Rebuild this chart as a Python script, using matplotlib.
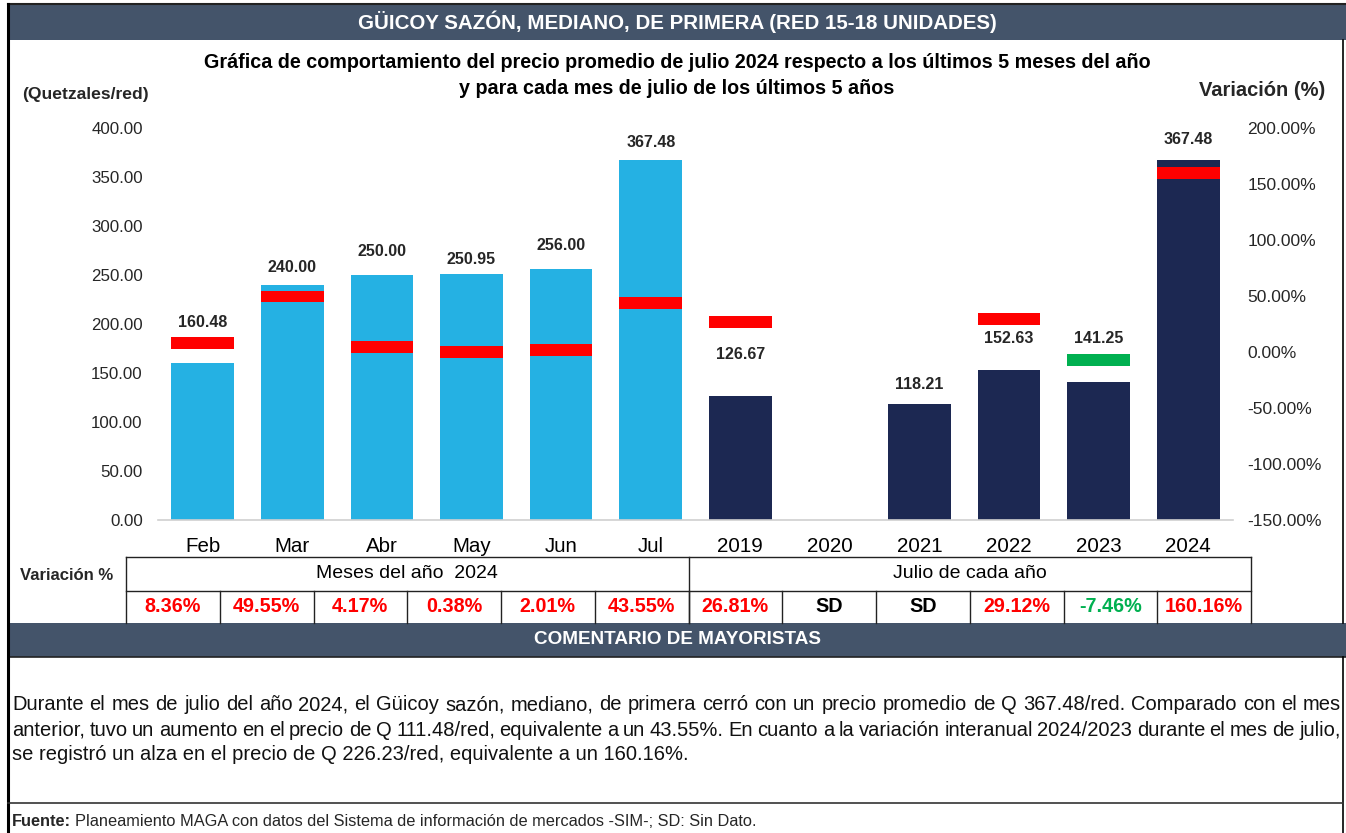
import matplotlib
matplotlib.use("Agg")
import matplotlib.pyplot as plt
from matplotlib.lines import Line2D
from matplotlib.patches import Rectangle
import numpy as np

plt.rcParams['font.family'] = ['Liberation Sans', 'DejaVu Sans']

# ---------------- data ----------------
categories = ["Feb", "Mar", "Abr", "May", "Jun", "Jul",
              "2019", "2020", "2021", "2022", "2023", "2024"]
prices = [160.48, 240.00, 250.00, 250.95, 256.00, 367.48,
          126.67, np.nan, 118.21, 152.63, 141.25, 367.48]
variation = [8.36, 49.55, 4.17, 0.38, 2.01, 43.55,
             26.81, np.nan, np.nan, 29.12, -7.46, 160.16]
variation_text = ["8.36%", "49.55%", "4.17%", "0.38%", "2.01%", "43.55%",
                  "26.81%", "SD", "SD", "29.12%", "-7.46%", "160.16%"]
left_ticks = [0, 50, 100, 150, 200, 250, 300, 350, 400]
right_ticks = [-150, -100, -50, 0, 50, 100, 150, 200]
group_labels = ["Meses del año  2024", "Julio de cada año"]

# label offsets above bar tops (pixels) - mimic manual placement
label_offset_px = [40, 17, 24, 15, 24, 17, 41, 0, 20, 32, 43, 20]

W, H = 1346, 833
fig = plt.figure(figsize=(W / 100, H / 100), dpi=100)

def fx(x):
    return x / W

def fy(y):
    return 1 - y / H

LIGHT = "#25B1E3"
NAVY = "#1C2852"
HEAD = "#44546A"
RED = "#FF0000"
GREEN = "#00B050"
TXT = "#262626"

# ---------------- header bars ----------------
fig.add_artist(Rectangle((fx(8), fy(40)), fx(1346) - fx(8), fy(4) - fy(40),
                         transform=fig.transFigure, facecolor=HEAD, edgecolor="none"))
fig.add_artist(Line2D([fx(8), fx(1346)], [fy(4), fy(4)], transform=fig.transFigure,
                      color="#222222", lw=1.5))
fig.text(fx(677), fy(22), "GÜICOY SAZÓN, MEDIANO, DE PRIMERA (RED 15-18 UNIDADES)",
         color="white", fontsize=14.8, fontweight="bold", ha="center", va="center")

fig.add_artist(Rectangle((fx(8), fy(657)), fx(1346) - fx(8), fy(623) - fy(657),
                         transform=fig.transFigure, facecolor=HEAD, edgecolor="none"))
fig.add_artist(Line2D([fx(8), fx(1346)], [fy(657), fy(657)], transform=fig.transFigure,
                      color="#222222", lw=1.2))
fig.text(fx(677), fy(640), "COMENTARIO DE MAYORISTAS",
         color="white", fontsize=13.6, fontweight="bold", ha="center", va="center")

# outer borders
fig.add_artist(Line2D([fx(8), fx(8)], [fy(4), fy(833)], transform=fig.transFigure,
                      color="black", lw=2.2))
fig.add_artist(Line2D([fx(1343), fx(1343)], [fy(40), fy(623)], transform=fig.transFigure,
                      color="black", lw=1.2))
fig.add_artist(Line2D([fx(1343), fx(1343)], [fy(657), fy(833)], transform=fig.transFigure,
                      color="black", lw=1.2))
fig.add_artist(Line2D([fx(8), fx(1343)], [fy(803), fy(803)], transform=fig.transFigure,
                      color="#333333", lw=1.2))

# titles
fig.text(fx(677), fy(62), "Gráfica de comportamiento del precio promedio de julio 2024 respecto a los últimos 5 meses del año",
         fontsize=14.2, fontweight="bold", ha="center", va="center", color="black")
fig.text(fx(677), fy(88), "y para cada mes de julio de los últimos 5 años",
         fontsize=14.2, fontweight="bold", ha="center", va="center", color="black")
fig.text(fx(22), fy(95), "(Quetzales/red)", fontsize=12.6, fontweight="bold",
         ha="left", va="center", color=TXT)
fig.text(fx(1325), fy(90), "Variación (%)", fontsize=14.5, fontweight="bold",
         ha="right", va="center", color=TXT)

# ---------------- chart ----------------
ax = fig.add_axes([fx(158), fy(520), fx(1233) - fx(158), fy(128) - fy(520)])
ax2 = ax.twinx()
x = np.arange(len(categories))
colors = [LIGHT] * 6 + [NAVY] * 6
bw = 0.70
ax.bar(x, prices, width=bw, color=colors, edgecolor="none", zorder=2)
ax.set_xlim(-0.5, len(categories) - 0.5)
ax.set_ylim(0, 400)
ax.set_yticks(left_ticks)
ax.set_yticklabels([f"{v:.2f}" for v in left_ticks])
ax.set_xticks(x)
ax.set_xticklabels(categories)
ax.tick_params(axis="y", length=0, pad=11, labelsize=12.2, labelcolor=TXT)
ax.tick_params(axis="x", length=0, pad=12, labelsize=14.8, labelcolor="black")
for s in ["top", "right", "left"]:
    ax.spines[s].set_visible(False)
ax.spines["bottom"].set_color("#D0D0D0")
ax.spines["bottom"].set_linewidth(1.2)

for xi, p, off in zip(x, prices, label_offset_px):
    if np.isnan(p):
        continue
    ax.annotate(f"{p:.2f}", (xi, p), xytext=(0, off * 0.72), textcoords="offset points",
                ha="center", va="center", fontsize=11.5, fontweight="bold", color=TXT)

ax2.set_ylim(-150, 200)
ax2.set_yticks(right_ticks)
ax2.set_yticklabels([f"{v:.2f}%" for v in right_ticks])
ax2.tick_params(axis="y", length=0, pad=10.5, labelsize=12.5, labelcolor=TXT)
for s in ["top", "right", "left", "bottom"]:
    ax2.spines[s].set_visible(False)

mh = 10.7  # marker thickness in % units
for xi, v in zip(x, variation):
    if np.isnan(v):
        continue
    ax2.bar(xi, mh, bottom=v - mh / 2, width=bw, color=RED if v >= 0 else GREEN,
            edgecolor="none", zorder=3)

# ---------------- table ----------------
t_left, cw = 126, 93.75
t_right = t_left + cw * 12
r0, r1, r2 = 557, 590.5, 623
lc = "#222222"
def hline(x0, x1, y, lw=1.0):
    fig.add_artist(Line2D([fx(x0), fx(x1)], [fy(y), fy(y)], transform=fig.transFigure, color=lc, lw=lw))
def vline(xv, y0, y1, lw=1.0):
    fig.add_artist(Line2D([fx(xv), fx(xv)], [fy(y0), fy(y1)], transform=fig.transFigure, color=lc, lw=lw))

hline(t_left, t_right, r0)
hline(t_left, t_right, r1)
vline(t_left, r0, r2)
vline(t_right, r0, r2)
vline(t_left + cw * 6, r0, r2)
for i in range(1, 12):
    vline(t_left + cw * i, r1, r2)

fig.text(fx(20), fy(575), "Variación %", fontsize=12.1, fontweight="bold", ha="left", va="center", color=TXT)
fig.text(fx(t_left + cw * 3), fy(574), group_labels[0], fontsize=14, ha="center", va="center", color="black")
fig.text(fx(t_left + cw * 9), fy(574), group_labels[1], fontsize=14, ha="center", va="center", color="black")
for i, (txt, v) in enumerate(zip(variation_text, variation)):
    if np.isnan(v):
        c = "black"
    else:
        c = RED if v >= 0 else GREEN
    fig.text(fx(t_left + cw * (i + 0.5)), fy(607), txt, fontsize=14.2, fontweight="bold",
             ha="center", va="center", color=c)

# ---------------- comment (justified) ----------------
comment_lines = [
    "Durante el mes de julio del año 2024, el Güicoy sazón, mediano, de primera cerró con un precio promedio de Q 367.48/red. Comparado con el mes",
    "anterior, tuvo un aumento en el precio de Q 111.48/red, equivalente a un 43.55%. En cuanto a la variación interanual 2024/2023 durante el mes de julio,",
    "se registró un alza en el precio de Q 226.23/red, equivalente a un 160.16%.",
]
renderer = fig.canvas.get_renderer()
cx0, cx1 = 12, 1341
cfs = 14.5
for li, line in enumerate(comment_lines):
    yy = fy(705 + li * 25)
    if li == len(comment_lines) - 1:
        fig.text(fx(cx0), yy, line, fontsize=cfs, ha="left", va="center", color="#111111")
        continue
    words = line.split(" ")
    arts = [fig.text(0, yy, w, fontsize=cfs, ha="left", va="center", color="#111111") for w in words]
    widths = [a.get_window_extent(renderer).width for a in arts]
    gap = ((cx1 - cx0) - sum(widths)) / (len(words) - 1)
    pos = cx0
    for a, w in zip(arts, widths):
        a.set_x(fx(pos))
        pos += w + gap

# footer
t1 = fig.text(fx(12), fy(821), "Fuente:", fontsize=11.8, fontweight="bold", ha="left", va="center", color=TXT)
wf = t1.get_window_extent(renderer).width
fig.text(fx(12 + wf + 4), fy(821), "Planeamiento MAGA con datos del Sistema de información de mercados -SIM-; SD: Sin Dato.",
         fontsize=11.8, ha="left", va="center", color=TXT)

fig.savefig("out.png", dpi=100, facecolor="white")
